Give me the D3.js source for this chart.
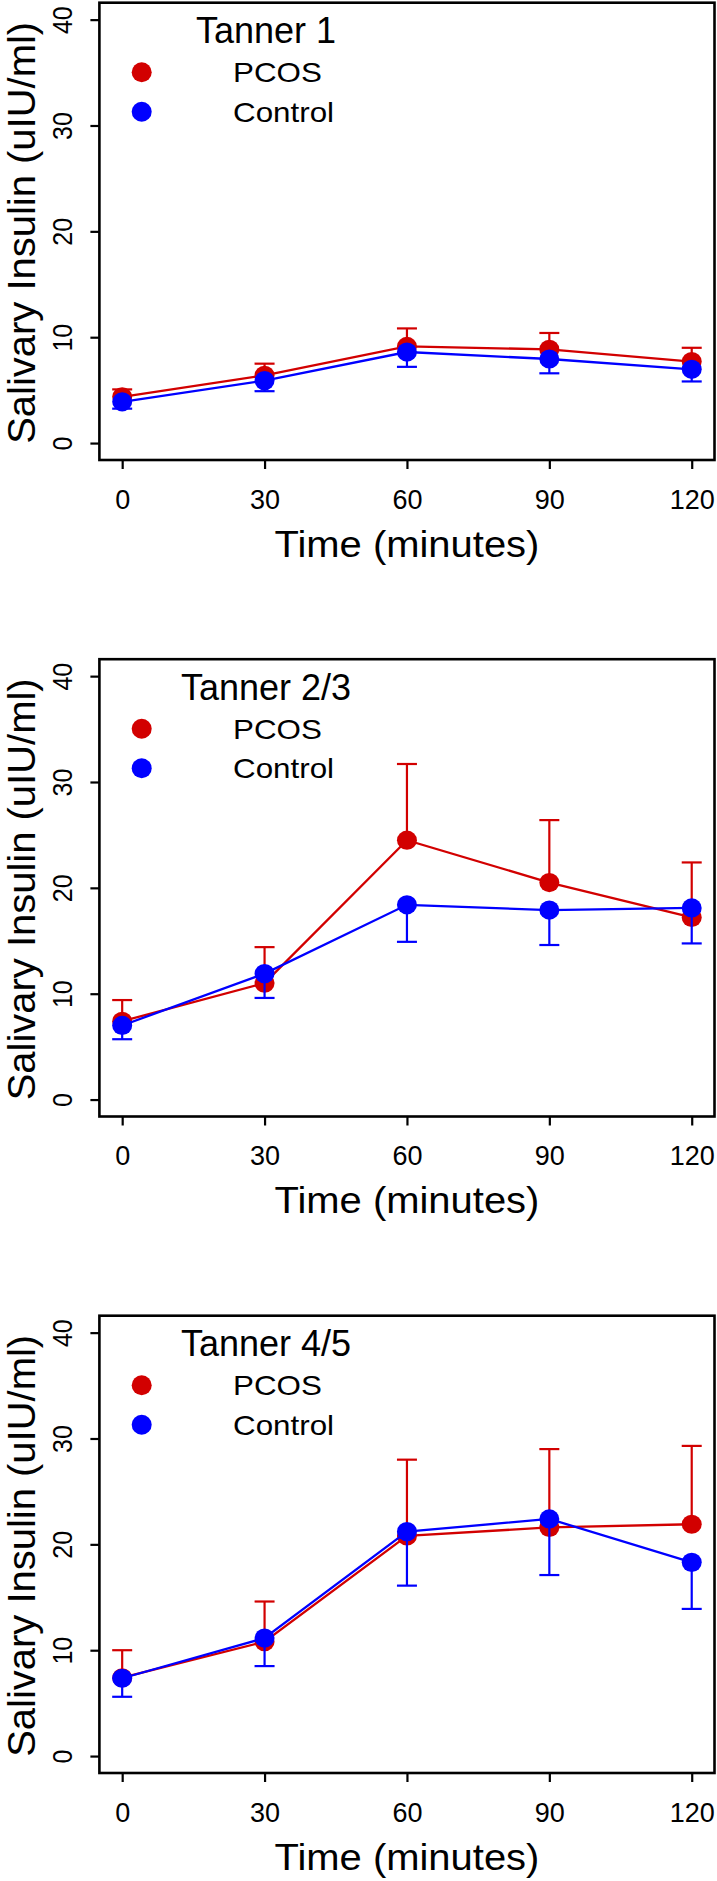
<!DOCTYPE html>
<html><head><meta charset="utf-8">
<script src="https://cdn.jsdelivr.net/npm/d3@7"></script>
<style>
body{margin:0;background:#fff}
svg{display:block;background:#fff}
text{font-family:"Liberation Sans",Arial,Helvetica,sans-serif;fill:#000}
</style>
</head><body>
<svg id="chart" width="717" height="1881"></svg>
<script>
// ---------- data ----------
const times = [0, 30, 60, 90, 120];
const xTickLabels = ["0", "30", "60", "90", "120"];
const yTickValues = [0, 10, 20, 30, 40];
const yTickLabels = ["0", "10", "20", "30", "40"];
const panelTitles = ["Tanner 1", "Tanner 2/3", "Tanner 4/5"];
const seriesNames = ["PCOS", "Control"];
const xAxisTitle = "Time (minutes)";
const yAxisTitle = "Salivary Insulin (uIU/ml)";

// Tanner 1
const pcosMeanT1 = [4.37, 6.4, 9.13, 8.85, 7.7];
const pcosSeT1 = [0.7, 1.1, 1.7, 1.55, 1.3];
const controlMeanT1 = [3.9, 5.9, 8.6, 7.94, 6.97];
const controlSeT1 = [0.65, 1.0, 1.4, 1.35, 1.15];
// Tanner 2/3
const pcosMeanT23 = [7.4, 11.0, 24.5, 20.5, 17.2];
const pcosSeT23 = [2.0, 3.4, 7.2, 5.9, 5.2];
const controlMeanT23 = [7.0, 11.9, 18.4, 17.9, 18.1];
const controlSeT23 = [1.3, 2.3, 3.5, 3.3, 3.35];
// Tanner 4/5
const pcosMeanT45 = [7.4, 10.8, 20.8, 21.6, 21.9];
const pcosSeT45 = [2.6, 3.8, 7.2, 7.4, 7.4];
const controlMeanT45 = [7.35, 11.15, 21.2, 22.4, 18.3];
const controlSeT45 = [1.75, 2.65, 5.1, 5.3, 4.4];

// ---------- layout / style ----------
const colors = {PCOS: "#d20000", Control: "#0000ff"};
const panelOffsets = [0, 656.5, 1313];
const plotLeft = 99.4, plotRight = 714.5, plotTop = 2.7, plotBottom = 460;
const fontFam = '"Liberation Sans",Arial,Helvetica,sans-serif';

const panels = [
  {title: panelTitles[0], pcos: pcosMeanT1, pcosSe: pcosSeT1, ctrl: controlMeanT1, ctrlSe: controlSeT1},
  {title: panelTitles[1], pcos: pcosMeanT23, pcosSe: pcosSeT23, ctrl: controlMeanT23, ctrlSe: controlSeT23},
  {title: panelTitles[2], pcos: pcosMeanT45, pcosSe: pcosSeT45, ctrl: controlMeanT45, ctrlSe: controlSeT45}
];

const svg = d3.select("#chart");
svg.append("rect").attr("width", 717).attr("height", 1881).attr("fill", "#fff");

const x = d3.scaleLinear().domain([-4.8, 124.8]).range([plotLeft, plotRight]);
const y = d3.scaleLinear().domain([-1.6, 41.6]).range([plotBottom, plotTop]);

panels.forEach((p, pi) => {
  const g = svg.append("g").attr("transform", `translate(0,${panelOffsets[pi]})`);

  // x axis
  const xAxis = d3.axisBottom(x).tickValues(times).tickSize(9)
    .tickFormat((d, i) => xTickLabels[i]);
  const gx = g.append("g").attr("transform", `translate(0,${plotBottom})`).call(xAxis);
  gx.select(".domain").remove();
  gx.selectAll(".tick line").attr("stroke", "#000").attr("stroke-width", 2.2);
  gx.selectAll(".tick text").attr("y", 48.5).attr("dy", null)
    .attr("font-size", 27).attr("font-family", fontFam).attr("fill", "#000");

  // y axis
  const yAxis = d3.axisLeft(y).tickValues(yTickValues).tickSize(9)
    .tickFormat((d, i) => yTickLabels[i]);
  const gy = g.append("g").attr("transform", `translate(${plotLeft},0)`).call(yAxis);
  gy.select(".domain").remove();
  gy.selectAll(".tick line").attr("stroke", "#000").attr("stroke-width", 2.2);
  gy.selectAll(".tick text").attr("x", null).attr("dy", null)
    .attr("text-anchor", "middle")
    .attr("transform", "translate(-27.4,0) scale(1.08,1) rotate(-90)")
    .attr("font-size", 25).attr("font-family", fontFam).attr("fill", "#000");

  // box
  g.append("rect").attr("x", plotLeft).attr("y", plotTop)
    .attr("width", plotRight - plotLeft).attr("height", plotBottom - plotTop)
    .attr("fill", "none").attr("stroke", "#000").attr("stroke-width", 2.6);

  // axis titles
  g.append("text").attr("text-anchor", "middle")
    .attr("transform", `translate(${(plotLeft + plotRight) / 2},${plotBottom + 96.7}) scale(1.08,1)`)
    .attr("font-size", 37).text(xAxisTitle);
  g.append("text").attr("text-anchor", "middle")
    .attr("transform", `translate(35,${(plotTop + plotBottom) / 2 + 1.5}) rotate(-90)`)
    .attr("textLength", 422).attr("lengthAdjust", "spacingAndGlyphs")
    .attr("font-size", 38).text(yAxisTitle);

  // series
  const series = [
    {name: seriesNames[0], mean: p.pcos, se: p.pcosSe, dir: 1},
    {name: seriesNames[1], mean: p.ctrl, se: p.ctrlSe, dir: -1}
  ];
  const line = d3.line().x((d, i) => x(times[i])).y(d => y(d));
  series.forEach(s => {
    const c = colors[s.name];
    const sg = g.append("g");
    sg.append("path").attr("d", line(s.mean)).attr("fill", "none")
      .attr("stroke", c).attr("stroke-width", 2.3);
    const eb = sg.selectAll(".eb").data(s.mean).enter().append("g");
    eb.append("line")
      .attr("x1", (d, i) => x(times[i])).attr("x2", (d, i) => x(times[i]))
      .attr("y1", d => y(d)).attr("y2", (d, i) => y(d + s.dir * s.se[i]))
      .attr("stroke", c).attr("stroke-width", 2.2);
    eb.append("line")
      .attr("x1", (d, i) => x(times[i]) - 10).attr("x2", (d, i) => x(times[i]) + 10)
      .attr("y1", (d, i) => y(d + s.dir * s.se[i])).attr("y2", (d, i) => y(d + s.dir * s.se[i]))
      .attr("stroke", c).attr("stroke-width", 2.2);
    sg.selectAll(".pt").data(s.mean).enter().append("ellipse")
      .attr("cx", (d, i) => x(times[i])).attr("cy", d => y(d))
      .attr("rx", 10).attr("ry", 9.6).attr("fill", c);
  });

  // legend
  g.append("text").attr("text-anchor", "middle")
    .attr("transform", `translate(266,${plotTop + 40.3})`)
    .attr("font-size", 36).text(p.title);
  seriesNames.forEach((nm, k) => {
    const cy = plotTop + 69.5 + k * 39.5;
    g.append("circle").attr("cx", 141.7).attr("cy", cy).attr("r", 10).attr("fill", colors[nm]);
    g.append("text").attr("transform", `translate(233,${cy + 10.2}) scale(1.12,1)`)
      .attr("font-size", 28).text(nm);
  });
});
</script>
</body></html>
